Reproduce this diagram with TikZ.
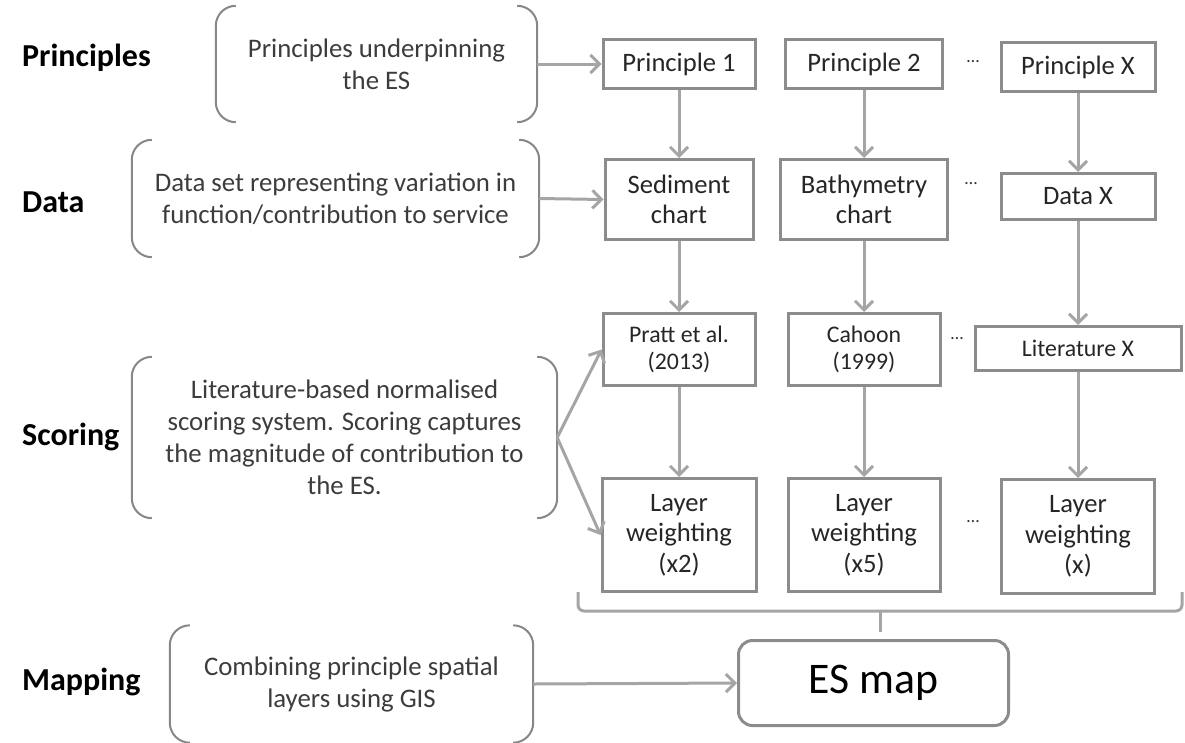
\documentclass[tikz,border=0pt]{standalone}
\usepackage{fontspec}
\setmainfont{Carlito}
\usetikzlibrary{arrows.meta}

\definecolor{boxline}{RGB}{140,140,140}
\definecolor{arrowline}{RGB}{165,165,165}
\definecolor{brkline}{RGB}{135,135,135}
\definecolor{softtext}{RGB}{60,60,60}

\tikzset{
  box/.style={draw=boxline, line width=3pt, fill=white, align=center, inner sep=0pt,
    text=black!85, font=\fontsize{26.6}{30.5}\selectfont},
  smallbox/.style={box, font=\fontsize{23.8}{27.5}\selectfont},
  note/.style={align=center, inner sep=0pt, text=softtext, font=\fontsize{26.8}{32}\selectfont},
  brk/.style={draw=brkline, line width=2pt, rounded corners=20pt},
  arr/.style={draw=arrowline, line width=3pt, -{Straight Barb[length=9pt,width=18pt]}},
  stage/.style={anchor=west, inner sep=0pt, font=\fontsize{32}{36}\selectfont\bfseries},
  more/.style={anchor=base, inner sep=0pt, text=black!80, font=\fontsize{18}{18}\selectfont},
}

\begin{document}
\begin{tikzpicture}[x=1pt,y=-1pt]
  \useasboundingbox (0,0) rectangle (1185,742);

  % stage labels
  \node[stage] (lp) at (22,58) {Principles};
  \node[stage] (ld) at (22,202) {Data};
  \node[stage] (ls) at (22,437) {Scoring};
  \node[stage] (lm) at (22,682) {Mapping};

  % bracketed notes
  \node[note, minimum width=321pt, minimum height=116pt] (tp) at (376.5,64)
    {Principles underpinning\\the ES};
  \node[note, minimum width=407pt, minimum height=117pt] (td) at (335.5,198.5)
    {Data set representing variation in\\function/contribution to service};
  \node[note, minimum width=425pt, minimum height=161pt] (ts) at (344.5,437.5)
    {Literature-based normalised\\scoring system. Scoring captures\\the magnitude of contribution to\\the ES.};
  \node[note, minimum width=363pt, minimum height=117pt] (tm) at (351.5,684)
    {Combining principle spatial\\layers using GIS};
  \foreach \n in {tp,td,ts,tm} {
    \draw[brk] ([xshift=20pt]\n.north west) -- (\n.north west) -- (\n.south west) -- ([xshift=20pt]\n.south west);
    \draw[brk] ([xshift=-20pt]\n.north east) -- (\n.north east) -- (\n.south east) -- ([xshift=-20pt]\n.south east);
  }

  % principles
  \node[box, minimum width=152pt, minimum height=49pt] (p1) at (679,64) {Principle 1};
  \node[box, minimum width=157pt, minimum height=49pt] (p2) at (864,64) {Principle 2};
  \node[box, minimum width=154pt, minimum height=49pt] (px) at (1078,67) {Principle X};

  % data
  \node[box, minimum width=148pt, minimum height=80pt] (d1) at (679,199.5) {Sediment\\chart};
  \node[box, minimum width=167pt, minimum height=80pt] (d2) at (864,199.5) {Bathymetry\\chart};
  \node[box, minimum width=154pt, minimum height=46pt] (dx) at (1078,196.5) {Data X};

  % literature
  \node[smallbox, minimum width=152pt, minimum height=72pt] (s1) at (679,349.5) {Pratt et al.\\(2013)};
  \node[smallbox, minimum width=152pt, minimum height=72pt] (s2) at (864,349.5) {Cahoon\\(1999)};
  \node[smallbox, minimum width=206pt, minimum height=44pt] (sx) at (1078,348.5) {Literature X};

  % weighting
  \node[box, minimum width=154pt, minimum height=113pt] (w1) at (679,535) {Layer\\weighting\\(x2)};
  \node[box, minimum width=152pt, minimum height=113pt] (w2) at (864,535) {Layer\\weighting\\(x5)};
  \node[box, minimum width=153pt, minimum height=114pt] (wx) at (1078,536.5) {Layer\\weighting\\(x)};

  % more columns
  \node[more] (m1) at (973,62) {…};
  \node[more] (m2) at (971,184) {…};
  \node[more] (m3) at (957,339) {…};
  \node[more] (m4) at (973,522) {…};

  % result
  \node[draw=boxline, line width=3pt, rounded corners=14pt, minimum width=270pt,
    minimum height=85pt, font=\fontsize{43.7}{48}\selectfont] (map) at (873.5,683) {ES map};

  % brace over the layers
  \coordinate (bl) at (578,592);
  \coordinate (br) at (1182,592);
  \coordinate (bm) at (880,611);
  \draw[draw=arrowline, line width=3pt, rounded corners=6pt]
    (bl) -- (578,611) -- (1182,611) -- (br);
  \draw[draw=arrowline, line width=3pt] (bm) -- ++(0,21);

  % arrows
  \draw[arr] (tp.east) -- (p1.west);
  \draw[arr] (td.east) -- (d1.west);
  \draw[arr] (ts.east) -- (s1.west);
  \draw[arr] (ts.east) -- (w1.west);
  \draw[arr] (tm.east) -- (map.west);
  \foreach \a/\b in {p1/d1,d1/s1,s1/w1,p2/d2,d2/s2,s2/w2,px/dx,dx/sx,sx/wx} {
    \draw[arr] (\a.south) -- (\b.north);
  }
\end{tikzpicture}
\end{document}
